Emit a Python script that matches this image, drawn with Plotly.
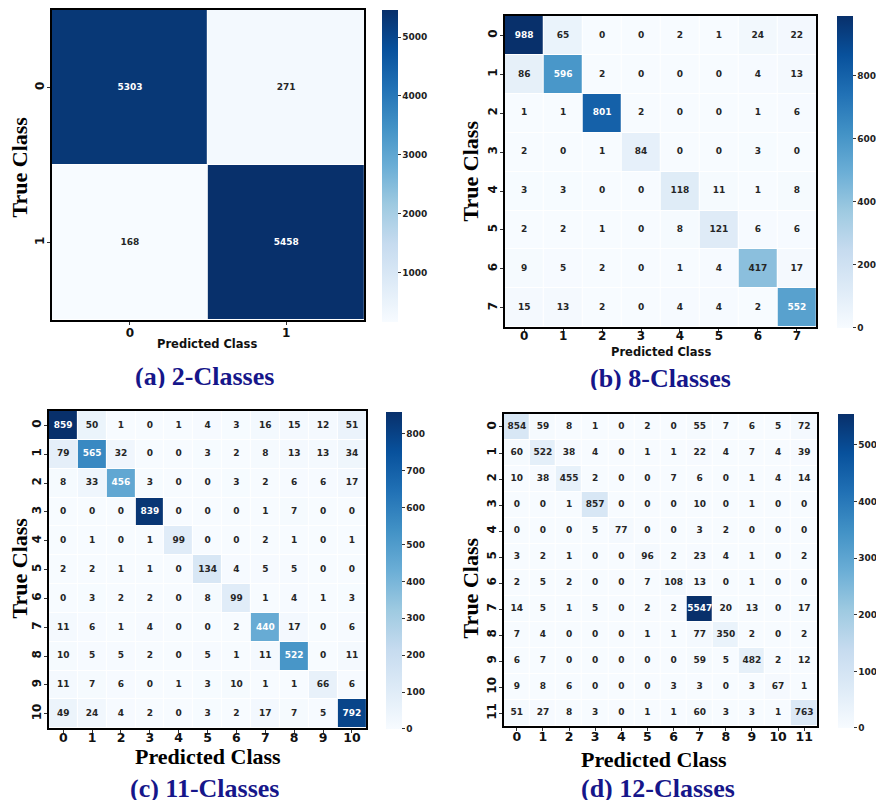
import plotly.graph_objects as go

VW, VH = 884, 809          # browser window
OFF = 8                    # page body margin of the written html
W, H = VW - OFF, VH - 2 * OFF   # figure size so the page never scrolls

# ---------------- data ----------------
cm2 = [[5303, 271],
       [168, 5458]]

cm8 = [[988, 65, 0, 0, 2, 1, 24, 22],
       [86, 596, 2, 0, 0, 0, 4, 13],
       [1, 1, 801, 2, 0, 0, 1, 6],
       [2, 0, 1, 84, 0, 0, 3, 0],
       [3, 3, 0, 0, 118, 11, 1, 8],
       [2, 2, 1, 0, 8, 121, 6, 6],
       [9, 5, 2, 0, 1, 4, 417, 17],
       [15, 13, 2, 0, 4, 4, 2, 552]]

cm11 = [[859, 50, 1, 0, 1, 4, 3, 16, 15, 12, 51],
        [79, 565, 32, 0, 0, 3, 2, 8, 13, 13, 34],
        [8, 33, 456, 3, 0, 0, 3, 2, 6, 6, 17],
        [0, 0, 0, 839, 0, 0, 0, 1, 7, 0, 0],
        [0, 1, 0, 1, 99, 0, 0, 2, 1, 0, 1],
        [2, 2, 1, 1, 0, 134, 4, 5, 5, 0, 0],
        [0, 3, 2, 2, 0, 8, 99, 1, 4, 1, 3],
        [11, 6, 1, 4, 0, 0, 2, 440, 17, 0, 6],
        [10, 5, 5, 2, 0, 5, 1, 11, 522, 0, 11],
        [11, 7, 6, 0, 1, 3, 10, 1, 1, 66, 6],
        [49, 24, 4, 2, 0, 3, 2, 17, 7, 5, 792]]

cm12 = [[854, 59, 8, 1, 0, 2, 0, 55, 7, 6, 5, 72],
        [60, 522, 38, 4, 0, 1, 1, 22, 4, 7, 4, 39],
        [10, 38, 455, 2, 0, 0, 7, 6, 0, 1, 4, 14],
        [0, 0, 1, 857, 0, 0, 0, 10, 0, 1, 0, 0],
        [0, 0, 0, 5, 77, 0, 0, 3, 2, 0, 0, 0],
        [3, 2, 1, 0, 0, 96, 2, 23, 4, 1, 0, 2],
        [2, 5, 2, 0, 0, 7, 108, 13, 0, 1, 0, 0],
        [14, 5, 1, 5, 0, 2, 2, 5547, 20, 13, 0, 17],
        [7, 4, 0, 0, 0, 1, 1, 77, 350, 2, 0, 2],
        [6, 7, 0, 0, 0, 0, 0, 59, 5, 482, 2, 12],
        [9, 8, 6, 0, 0, 0, 3, 3, 0, 3, 67, 1],
        [51, 27, 8, 3, 0, 1, 1, 60, 3, 3, 1, 763]]

cb_ticks_a = [1000, 2000, 3000, 4000, 5000]
cb_ticks_b = [0, 200, 400, 600, 800]
cb_ticks_c = [0, 100, 200, 300, 400, 500, 600, 700, 800]
cb_ticks_d = [0, 1000, 2000, 3000, 4000, 5000]

captions = ["(a) 2-Classes", "(b) 8-Classes", "(c) 11-Classes", "(d) 12-Classes"]

# ---------------- style / layout (pixels) ----------------
blues = [[0.0, "#f7fbff"], [0.125, "#deebf7"], [0.25, "#c6dbef"], [0.375, "#9ecae1"],
         [0.5, "#6baed6"], [0.625, "#4292c6"], [0.75, "#2171b5"], [0.875, "#08519c"],
         [1.0, "#08306b"]]

def px_x(x):
    return (x - OFF) / W

def px_y(y):
    return 1 - (y - OFF) / H

panels = [
    dict(cm=cm2, box=(52, 366, 8, 319), cbx=384, cbtop=8, cblen=312, cbt=cb_ticks_a,
         xts=12, yts=12, xso=-2, pred=(208, 343, "sans"), true=(20, 165), cap=(205, 375)),
    dict(cm=cm8, box=(507, 820, 14, 326), cbx=841, cbtop=14, cblen=312, cbt=cb_ticks_b,
         xts=12, yts=12, xso=-6, pred=(664, 351, "sans"), true=(473, 169), cap=(663, 377)),
    dict(cm=cm11, box=(49, 368, 410, 728), cbx=388, cbtop=411, cblen=317, cbt=cb_ticks_c,
         xts=12.5, yts=12, xso=-6, pred=(209, 756, "serif"), true=(20, 567), cap=(205, 788)),
    dict(cm=cm12, box=(506, 821, 413, 726), cbx=842, cbtop=413, cblen=314, cbt=cb_ticks_d,
         xts=12.5, yts=12, xso=-5, pred=(657, 759, "serif"), true=(473, 587), cap=(661, 788)),
]

fig = go.Figure()
annotations = []
layout_axes = {}

for i, p in enumerate(panels, start=1):
    cm = p["cm"]
    n = len(cm)
    idx = list(range(n))
    xa = "x" if i == 1 else f"x{i}"
    ya = "y" if i == 1 else f"y{i}"
    flat = [v for row in cm for v in row]
    zmin, zmax = min(flat), max(flat)

    fig.add_trace(go.Heatmap(
        z=cm, x=idx, y=idx, xaxis=xa, yaxis=ya,
        colorscale=blues, zmin=zmin, zmax=zmax, xgap=1, ygap=1,
        hoverinfo="skip",
        colorbar=dict(
            x=px_x(p["cbx"]), xanchor="left", y=px_y(p["cbtop"]), yanchor="top",
            len=p["cblen"], lenmode="pixels", thickness=16, thicknessmode="pixels",
            outlinewidth=0, tickvals=p["cbt"], ticks="outside", ticklen=3,
            tickcolor="#333", xpad=0, ypad=0,
            tickfont=dict(family="DejaVu Sans", size=9, color="#222", weight="bold"),
        ),
    ))

    xs, ys, txt, cols = [], [], [], []
    thr = zmin + 0.47 * (zmax - zmin)
    for r in range(n):
        for c in range(n):
            xs.append(c)
            ys.append(r)
            txt.append(str(cm[r][c]))
            cols.append("white" if cm[r][c] > thr else "#262626")
    fig.add_trace(go.Scatter(
        x=xs, y=ys, text=txt, mode="text", xaxis=xa, yaxis=ya,
        textfont=dict(family="DejaVu Sans", size=9, color=cols, weight="bold"),
        hoverinfo="skip", showlegend=False,
    ))

    x0, x1, y0, y1 = p["box"]
    axkey_x = "xaxis" if i == 1 else f"xaxis{i}"
    axkey_y = "yaxis" if i == 1 else f"yaxis{i}"
    layout_axes[axkey_x] = dict(
        domain=[px_x(x0), px_x(x1)], anchor=ya, range=[-0.5, n - 0.5],
        tickvals=idx, ticktext=[str(v) for v in idx], ticks="outside", ticklen=3,
        tickcolor="#333", showgrid=False, zeroline=False, ticklabelstandoff=p["xso"],
        showline=True, mirror=True, linecolor="black", linewidth=1.5,
        tickfont=dict(family="DejaVu Sans", size=p["xts"], color="#111", weight="bold"),
    )
    layout_axes[axkey_y] = dict(
        domain=[px_y(y1), px_y(y0)], anchor=xa, range=[n - 0.5, -0.5],
        tickvals=idx, ticktext=[str(v) for v in idx], ticks="outside", ticklen=3,
        tickcolor="#333", showgrid=False, zeroline=False, tickangle=-90,
        ticklabelstandoff=-2,
        showline=True, mirror=True, linecolor="black", linewidth=1.5,
        tickfont=dict(family="DejaVu Sans", size=p["yts"], color="#111", weight="bold"),
    )

    px_, py_, style = p["pred"]
    if style == "sans":
        pf = dict(family="DejaVu Sans", size=11.5, color="#111", weight="bold")
    else:
        pf = dict(family="Liberation Serif", size=22, color="black", weight="bold")
    annotations.append(dict(x=px_x(px_), y=px_y(py_), xref="paper", yref="paper",
                            text="Predicted Class", showarrow=False,
                            xanchor="center", yanchor="middle", font=pf))
    tx, ty = p["true"]
    annotations.append(dict(x=px_x(tx), y=px_y(ty), xref="paper", yref="paper",
                            text="True Class", showarrow=False, textangle=-90,
                            xanchor="center", yanchor="middle",
                            font=dict(family="Liberation Serif", size=22, color="black",
                                      weight="bold")))
    cx, cy = p["cap"]
    annotations.append(dict(x=px_x(cx), y=px_y(cy), xref="paper", yref="paper",
                            text=captions[i - 1], showarrow=False,
                            xanchor="center", yanchor="middle", height=24, borderpad=0,
                            valign="middle",
                            font=dict(family="Liberation Serif", size=26, color="#16168a",
                                      weight="bold")))

fig.update_layout(
    width=W, height=H, margin=dict(l=0, r=0, t=0, b=0),
    paper_bgcolor="white", plot_bgcolor="white", showlegend=False,
    annotations=annotations, **layout_axes,
)

fig.write_html("out.html")
